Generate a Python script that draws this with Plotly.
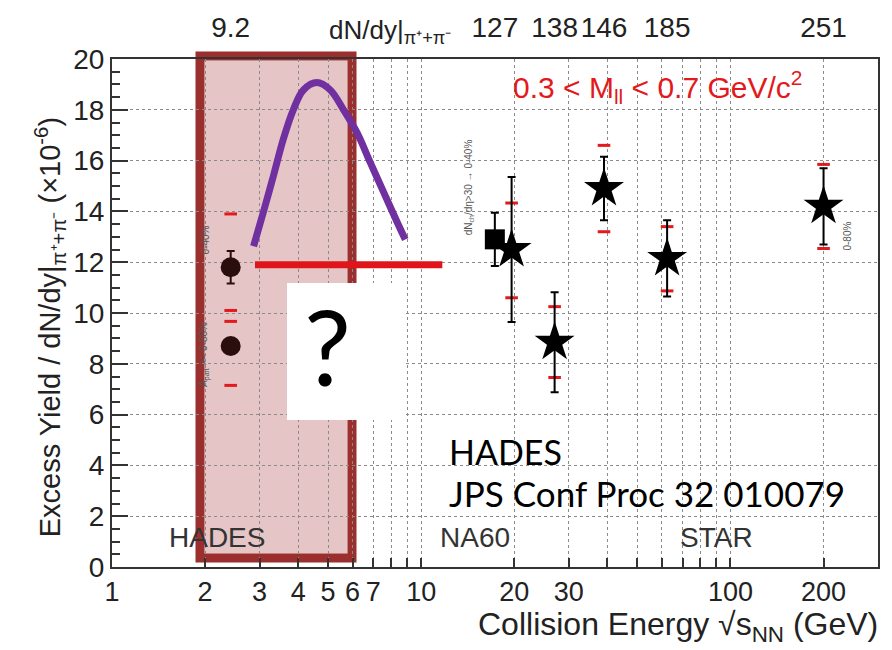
import numpy as np
import plotly.graph_objects as go

# ---------------- data ----------------
hades_energy = [2.42, 2.42]
hades_yield = [11.8, 8.7]
hades_stat = [0.64, 0.3]
hades_sys_low = [9.67, 7.15]
hades_sys_high = [13.9, 10.1]

na60_energy = [17.3]
na60_yield = [12.9]
na60_stat = [1.05]

star_energy = [19.6, 27.0, 39.0, 62.4, 200.0]
star_yield = [12.5, 8.85, 14.9, 12.15, 14.2]
star_stat = [2.85, 1.97, 1.25, 1.5, 1.5]
star_sys_low = [10.6, 7.46, 13.2, 10.87, 12.54]
star_sys_high = [14.33, 10.25, 16.6, 13.4, 15.85]

dndy_energy = [2.42, 17.3, 27.0, 39.0, 62.4, 200.0]
dndy_labels = ["9.2", "127", "138", "146", "185", "251"]

x_tick_values = [1, 2, 3, 4, 5, 6, 7, 8, 9, 10, 20, 30, 40, 50, 60, 70, 80, 90, 100, 200, 300]
x_tick_labels = ["1", "2", "3", "4", "5", "6", "7", "", "", "10", "20", "30", "", "", "", "", "", "", "100", "200", ""]

purple_energy = [2.87, 3.09, 3.33, 3.58, 3.86, 4.16, 4.60, 5.08, 5.60, 6.20, 6.84, 7.55, 8.34, 8.88]
purple_yield = [12.63, 13.99, 15.42, 16.84, 18.01, 18.78, 19.07, 18.78, 18.01, 17.10, 15.93, 14.77, 13.60, 12.89]

red_energy = [2.90, 11.7]
red_yield = [11.9, 11.9]

# ---------------- layout helpers ----------------
W, H = 892, 650
L, R, T, B = 112, 878, 52, 567


def px(x):
    return (x - L) / (R - L)


def py(y):
    return (B - y) / (B - T)


RED = "#e3191c"
fig = go.Figure()

# HADES circles
fig.add_trace(go.Scatter(
    x=hades_energy, y=hades_yield, mode="markers",
    marker=dict(symbol="circle", size=20, color="#2a0d0d"),
    error_y=dict(type="data", array=hades_stat, color="#2a0d0d", thickness=2, width=4),
    showlegend=False, hoverinfo="skip"))
fig.add_trace(go.Scatter(
    x=hades_energy + hades_energy, y=hades_sys_low + hades_sys_high, mode="markers",
    marker=dict(symbol="line-ew-open", size=9, color=RED, line=dict(color=RED, width=3)),
    showlegend=False, hoverinfo="skip"))

# NA60 square
fig.add_trace(go.Scatter(
    x=na60_energy, y=na60_yield, mode="markers",
    marker=dict(symbol="square", size=20, color="black"),
    error_y=dict(type="data", array=na60_stat, color="black", thickness=2, width=4),
    showlegend=False, hoverinfo="skip"))

# STAR stars
fig.add_trace(go.Scatter(
    x=star_energy + star_energy, y=star_sys_low + star_sys_high, mode="markers",
    marker=dict(symbol="line-ew-open", size=9, color=RED, line=dict(color=RED, width=3)),
    showlegend=False, hoverinfo="skip"))
fig.add_trace(go.Scatter(
    x=star_energy, y=star_yield, mode="markers",
    marker=dict(symbol="star", size=30, color="black"),
    error_y=dict(type="data", array=star_stat, color="black", thickness=2, width=4),
    showlegend=False, hoverinfo="skip"))

# overlay curves
fig.add_trace(go.Scatter(
    x=red_energy, y=red_yield, mode="lines",
    line=dict(color="#e0141b", width=7),
    showlegend=False, hoverinfo="skip"))
fig.add_trace(go.Scatter(
    x=purple_energy, y=purple_yield, mode="lines",
    line=dict(color="#7030a0", width=7, shape="spline"),
    showlegend=False, hoverinfo="skip"))

# top axis carrier
fig.add_trace(go.Scatter(
    x=dndy_energy, y=[None] * len(dndy_energy), xaxis="x2", mode="markers",
    showlegend=False, hoverinfo="skip"))

FONT = "Liberation Sans"
grid = dict(showgrid=True, gridcolor="#8a8a8a", griddash="dot", gridwidth=1)

fig.update_layout(
    width=W, height=H,
    margin=dict(l=L, r=W - R, t=T, b=H - B),
    paper_bgcolor="white", plot_bgcolor="white",
    font=dict(family=FONT, color="#222", size=28),
    xaxis=dict(
        type="log", range=[0, np.log10(300)],
        tickvals=x_tick_values, ticktext=x_tick_labels,
        ticks="inside", ticklen=9, tickwidth=1.5, tickcolor="#333",
        showline=True, linecolor="#333", linewidth=2, mirror=True,
        tickfont=dict(size=27, family=FONT, color="#222"),
        zeroline=False, **grid),
    xaxis2=dict(
        type="log", range=[0, np.log10(300)], overlaying="x", side="top",
        tickvals=dndy_energy, ticktext=dndy_labels,
        ticks="outside", ticklen=10, tickcolor="rgba(0,0,0,0)",
        showgrid=False, showline=False, zeroline=False,
        tickfont=dict(size=28, family=FONT, color="#222")),
    yaxis=dict(
        range=[0, 20], dtick=2, tick0=0,
        ticks="inside", ticklen=16, tickwidth=1.5, tickcolor="#333",
        showline=True, linecolor="#333", linewidth=2, mirror=True,
        tickfont=dict(size=28, family=FONT, color="#222"),
        minor=dict(dtick=0.5, ticks="inside", ticklen=8, tickcolor="#333", showgrid=False),
        zeroline=False,
        **grid),
)

shapes = []
# pink filled region
shapes.append(dict(type="rect", xref="paper", yref="paper",
                   x0=px(204.5), x1=px(347.5), y0=py(553.5), y1=py(53.5),
                   fillcolor="rgba(160,45,45,0.28)", line=dict(width=0), layer="below"))
# dark red frame
shapes.append(dict(type="rect", xref="paper", yref="paper",
                   x0=px(200), x1=px(352), y0=py(558), y1=py(49),
                   fillcolor="rgba(0,0,0,0)", line=dict(color="#9b2f2d", width=9), layer="below"))
# white question box
shapes.append(dict(type="rect", xref="paper", yref="paper",
                   x0=px(287), x1=px(405), y0=py(418), y1=py(279),
                   fillcolor="white", line=dict(width=0), layer="above"))
fig.update_layout(shapes=shapes)

ann = []


def add_text(text, x, y, size, color="#222", family=FONT, xanchor="center", yanchor="middle", angle=0):
    ann.append(dict(text=text, x=px(x), y=py(y), xref="paper", yref="paper",
                    showarrow=False, xanchor=xanchor, yanchor=yanchor, textangle=angle,
                    font=dict(size=size, color=color, family=family)))


add_text("Excess Yield / dN/dy|<sub>π⁺+π⁻</sub> (×10<sup>-6</sup>)", 50, 324, 29, angle=-90)
add_text("dN/dy|<sub>π⁺+π⁻</sub>", 327, 24, 26, xanchor="left")
add_text("0.3 &lt; M<sub>ll</sub> &lt; 0.7 GeV/c<sup>2</sup>", 511, 80, 30, color=RED, xanchor="left")
add_text("HADES", 217, 537, 28, color="#333")
add_text("NA60", 475, 537, 28, color="#333")
add_text("STAR", 716, 537, 28, color="#333")
add_text("HADES", 447, 450, 34, color="black", family="Lato", xanchor="left")
add_text("JPS Conf Proc 32 010079", 447, 492, 35, color="black", family="Lato", xanchor="left")
add_text("?", 327, 342, 105, color="black", family="Lato")
add_text("Collision Energy √s<sub>NN</sub> (GeV)", 880, 627, 32, color="#222", xanchor="right")
add_text("0-40%", 205, 236, 10, color="#555", angle=-90)
add_text("A<sub>part</sub> &gt;= 0-80%", 205, 352, 10, color="#555", angle=-90)
add_text("dN<sub>ch</sub>/dη&gt;30 → 0-40%", 469, 182, 10, color="#555", angle=-90)
add_text("0-80%", 848, 232, 10, color="#555", angle=-90)
fig.update_layout(annotations=ann)

fig.write_html("out.html")
